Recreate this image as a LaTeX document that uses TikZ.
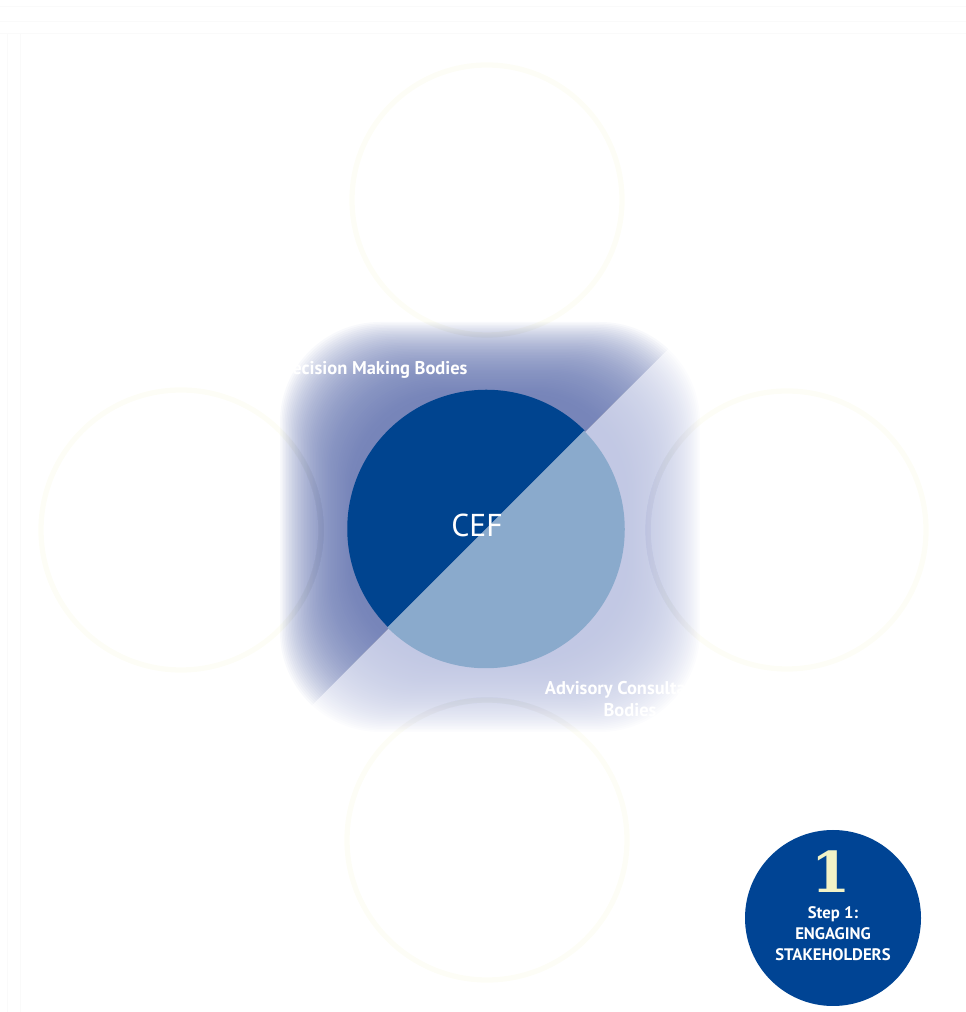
\documentclass[tikz,border=0pt]{standalone}
\usepackage{fontspec}
\setmainfont{PT Sans}
\newfontfamily\numfont{DejaVu Serif}
\usetikzlibrary{positioning}

\definecolor{cefdark}{HTML}{00448F}
\definecolor{ceflight}{HTML}{8AAACC}
\definecolor{boxdark}{HTML}{6575B0}
\definecolor{boxlight}{HTML}{BAC1E0}
\definecolor{ringyellow}{HTML}{FDFDF6}
\definecolor{stepblue}{HTML}{004494}
\definecolor{stepnum}{HTML}{F2F2C6}

\tikzset{
  hub/.style={circle, minimum size=5.56cm, inner sep=0pt},
  faintring/.style={circle, draw=ringyellow, line width=3pt, minimum size=#1, inner sep=0pt},
  bodylabel/.style={text=white, font=\bfseries\fontsize{10.5}{12.5}\selectfont, align=center},
  stepdisc/.style={circle, fill=stepblue, minimum size=3.52cm, inner sep=0pt},
}

\begin{document}
\begin{tikzpicture}
  \useasboundingbox (0,0) rectangle (19.32,20.24);
  % faint frame lines
  \draw[gray!4] (0,20.12) -- (19.32,20.12);
  \draw[gray!4] (0,19.82) -- (19.32,19.82);
  \draw[gray!4] (0,19.58) -- (19.32,19.58);
  \draw[gray!4] (0.14,19.58) -- (0.14,0);
  \draw[gray!4] (0.40,19.58) -- (0.40,0);

  % faint outer circles
  \node[faintring=5.4cm] (top) at (9.74,16.24) {};
  \node[faintring=5.6cm] (left) at (3.62,9.64) {};
  \node[faintring=5.56cm] (right) at (15.74,9.64) {};
  \node[faintring=5.6cm] (bottom) at (9.74,3.44) {};

  % blurred square behind the hub
  \coordinate (sq) at (9.8,9.7);
  \begin{scope}
    \clip (sq) ++(-10,-10) -- ++(20,20) -- ++(-20,0) -- cycle;
    \foreach \i in {0,...,49}
      \fill[boxdark, opacity=0.045, rounded corners=2cm] (sq) ++(-4.2+0.03*\i,-4.1+0.03*\i) rectangle ++(8.4-0.06*\i,8.2-0.06*\i);
  \end{scope}
  \begin{scope}
    \clip (sq) ++(-10,-10) -- ++(20,20) -- ++(0,-20) -- cycle;
    \foreach \i in {0,...,49}
      \fill[boxlight, opacity=0.045, rounded corners=2cm] (sq) ++(-4.2+0.03*\i,-4.1+0.03*\i) rectangle ++(8.4-0.06*\i,8.2-0.06*\i);
  \end{scope}

  % hub circle
  \node[hub] (cef) at (9.72,9.66) {};
  \fill[cefdark] (cef.45) arc[start angle=45, end angle=225, radius=2.78cm] -- cycle;
  \fill[ceflight] (cef.225) arc[start angle=225, end angle=405, radius=2.78cm] -- cycle;
  \node[text=white, font=\fontsize{18}{20}\selectfont, xshift=-0.18cm, yshift=0.08cm] (ceftext) at (cef.center) {CEF};

  \node[bodylabel] (decision) at (7.48,12.84) {Decision Making Bodies};
  \node[bodylabel] (advisory) at (12.6,6.26) {Advisory Consultative\\Bodies};

  % step badge
  \node[stepdisc] (step) at (16.66,1.88) {};
  \node[text=stepnum, font=\numfont\bfseries\fontsize{32}{34}\selectfont] (stepno) at (16.62,2.80) {1};
  \node[text=white, font=\bfseries\fontsize{9.5}{12}\selectfont, align=center] (steptext) at (16.66,1.56) {Step 1:\\ENGAGING\\STAKEHOLDERS};
\end{tikzpicture}
\end{document}
